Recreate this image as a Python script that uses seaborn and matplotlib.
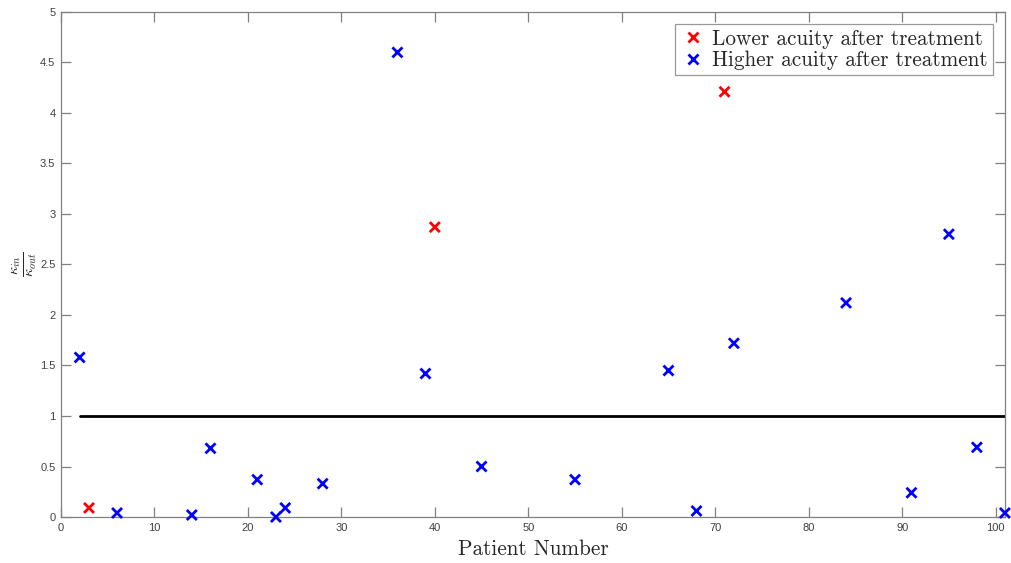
import matplotlib
matplotlib.use("Agg")
import matplotlib.pyplot as plt
import seaborn as sns
import pandas as pd
from matplotlib.ticker import FuncFormatter, MultipleLocator

# ---- data ----
lower_patients = [3, 40, 71]
lower_ratio = [0.09, 2.87, 4.21]
higher_patients = [2, 6, 14, 16, 21, 23, 24, 28, 36, 39, 45, 55, 65, 68, 72, 84, 91, 95, 98, 101]
higher_ratio = [1.58, 0.04, 0.02, 0.68, 0.37, 0.0, 0.09, 0.33, 4.60, 1.42, 0.50, 0.37,
                1.45, 0.06, 1.72, 2.12, 0.24, 2.80, 0.69, 0.04]
group_labels = ["Lower acuity after treatment", "Higher acuity after treatment"]
threshold_x = [2, 101]
threshold_y = [1, 1]
x_ticks = list(range(0, 101, 10))

df = pd.DataFrame({
    "patient": lower_patients + higher_patients,
    "ratio": lower_ratio + higher_ratio,
    "group": [group_labels[0]] * len(lower_patients) + [group_labels[1]] * len(higher_patients),
})

sns.set_style("white")
plt.rcParams["mathtext.fontset"] = "cm"
plt.rcParams["font.family"] = ["Liberation Sans", "DejaVu Sans"]

fig = plt.figure(figsize=(10.11, 5.63), dpi=100)
ax = fig.add_axes([0.0603, 0.0817, 0.9337, 0.8970])

ax.plot(threshold_x, threshold_y, color="black", lw=2.0, zorder=2)

sns.scatterplot(data=df, x="patient", y="ratio", hue="group", hue_order=group_labels,
                palette={group_labels[0]: "#ff0000", group_labels[1]: "#0000ff"},
                marker="x", s=52, linewidth=2.0, ax=ax, zorder=3, clip_on=False)

ax.set_xlim(0, 101)
ax.set_ylim(0, 5)
ax.set_xticks(x_ticks)
ax.yaxis.set_major_locator(MultipleLocator(0.5))
ax.yaxis.set_major_formatter(FuncFormatter(lambda v, p: f"{v:g}"))

gray = "#808080"
for sp in ax.spines.values():
    sp.set_visible(True)
    sp.set_color(gray)
    sp.set_linewidth(0.9)
ax.tick_params(direction="in", length=7, width=0.9, color=gray, labelcolor="#404040",
               labelsize=8, top=True, right=True, bottom=True, left=True, pad=4)

ax.set_xlabel("Patient Number", fontfamily="cmr10", fontsize=15.3, color="#262626", labelpad=5)
ax.set_ylabel(r"$\frac{\kappa_{in}}{\kappa_{out}}$", fontsize=15, color="#262626", labelpad=1)

leg = ax.legend(loc="upper right", prop={"family": "cmr10", "size": 15.3}, frameon=True,
                fancybox=False, edgecolor=gray, borderpad=0.25, handletextpad=0.3,
                labelspacing=0.1, handlelength=1.2, borderaxespad=0.55)
leg.get_frame().set_linewidth(0.9)
for h in leg.legend_handles:
    if hasattr(h, "set_markersize"):
        h.set_markersize(6.5)

fig.savefig("out.png", dpi=100)
